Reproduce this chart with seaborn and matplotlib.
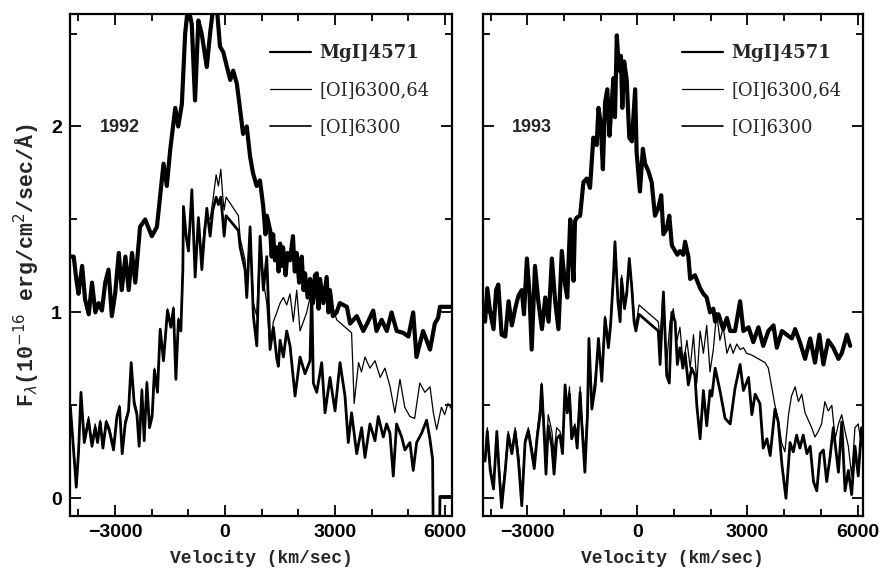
import matplotlib
matplotlib.use("Agg")
import matplotlib.pyplot as plt
import seaborn as sns
import pandas as pd

# ---------------- 1992 ----------------
v92_mg = [-4220, -4130, -4060, -4000, -3900, -3820, -3720, -3630, -3540, -3450, -3360, -3270, -3180, -3090,
          -3000, -2900, -2820, -2720, -2630, -2540, -2450, -2320, -2180, -2000, -1860, -1680, -1590, -1500,
          -1360, -1280, -1180, -1090, -1010, -910, -820, -730, -640, -500, -410, -320, -230, -140, -50, 50,
          140, 220, 320, 410, 490, 590, 680, 760, 860, 950, 1040, 1100, 1140, 1230, 1270, 1310, 1360, 1410,
          1460, 1500, 1540, 1580, 1650, 1700, 1770, 1850, 1900, 1950, 2020, 2090, 2140, 2180, 2250, 2320,
          2400, 2450, 2500, 2550, 2590, 2680, 2770, 2820, 2860, 2940, 3040, 3130, 3320, 3410, 3590, 3770,
          3900, 4040, 4130, 4270, 4410, 4540, 4680, 4860, 5000, 5130, 5220, 5400, 5590, 5720, 5810, 5860, 6190]
f92_mg = [1.30, 1.30, 1.18, 1.10, 1.25, 1.07, 0.99, 1.16, 1.00, 1.05, 1.01, 1.16, 1.23, 0.98,
          1.10, 1.32, 1.12, 1.30, 1.12, 1.32, 1.16, 1.46, 1.50, 1.41, 1.46, 1.80, 1.68, 1.87,
          2.10, 2.00, 2.12, 2.50, 2.65, 2.55, 2.14, 2.57, 2.50, 2.32, 2.50, 2.65, 2.65, 2.43, 2.40, 2.32,
          2.25, 2.30, 2.23, 2.09, 1.96, 2.00, 1.84, 1.75, 1.68, 1.71, 1.57, 1.42, 1.52, 1.44, 1.30, 1.42, 1.28, 1.35,
          1.22, 1.37, 1.25, 1.35, 1.20, 1.32, 1.28, 1.41, 1.22, 1.32, 1.16, 1.30, 1.12, 1.21, 1.08, 1.18,
          1.05, 1.20, 1.21, 1.02, 1.18, 1.05, 1.19, 1.00, 1.12, 0.98, 1.00, 1.05, 1.03, 0.94, 0.98, 0.90,
          0.95, 1.01, 0.90, 0.96, 0.90, 1.00, 0.90, 0.89, 0.87, 1.00, 0.76, 0.90, 0.80, 0.94, 0.97, 1.03, 1.03]

v92_o64 = [-4224, -4134, -4060, -3998, -3932, -3842, -3725, -3632, -3543, -3480, -3406, -3333, -3243, -3153,
           -3044, -2951, -2880, -2807, -2725, -2635, -2562, -2480, -2406, -2344, -2270, -2207, -2134, -2063,
           -1990, -1927, -1845, -1771, -1681, -1572, -1480, -1409, -1343, -1273, -1207, -1153, -1136, -1063,
           -1000, -907, -817, -728, -635, -572, -499, -409, -335, -245, -183, -117, -63, -27, 27, 362,
           409, 545, 591, 681, 771, 864, 954, 1044, 1136, 1226, 1316, 1409, 1500, 1589, 1680, 1771, 1860,
           1953, 2044, 2135, 2226, 2316, 2407, 2499, 2590, 2680, 2770, 2861, 2950, 3044, 3450, 3520, 3640,
           3720, 3815, 3950, 4090, 4230, 4360, 4500, 4630, 4770, 4900, 5040, 5170, 5310, 5450, 5590, 5680,
           5770, 5900, 5990, 6080, 6180]
f92_o64 = [0.50, 0.28, 0.08, 0.27, 0.55, 0.32, 0.44, 0.30, 0.40, 0.32, 0.42, 0.29, 0.42, 0.38,
           0.28, 0.45, 0.50, 0.27, 0.42, 0.48, 0.72, 0.53, 0.47, 0.31, 0.59, 0.34, 0.63, 0.41,
           0.46, 0.70, 0.59, 0.90, 0.76, 1.02, 0.94, 1.03, 0.66, 0.97, 0.92, 1.25, 1.55, 1.43,
           1.36, 1.62, 1.25, 1.48, 1.30, 1.45, 1.52, 1.50, 1.60, 1.74, 1.68, 1.77, 1.62, 1.55, 1.62, 1.52,
           1.40, 1.28, 1.15, 1.45, 1.05, 0.98, 1.40, 1.17, 1.05, 0.80, 0.95, 1.00, 1.05, 1.08, 1.04, 1.10, 0.95,
           1.12, 0.90, 0.95, 1.00, 1.08, 1.05, 1.10, 1.05, 1.12, 1.06, 1.08, 1.02, 0.96, 0.89, 0.51, 0.73,
           0.68, 0.76, 0.70, 0.74, 0.65, 0.70, 0.60, 0.46, 0.64, 0.49, 0.44, 0.43, 0.62, 0.57, 0.60, 0.46,
           0.37, 0.49, 0.45, 0.51, 0.48]

v92_o63 = [-4224, -4134, -4060, -3998, -3932, -3842, -3725, -3632, -3543, -3480, -3406, -3333, -3243, -3153,
           -3044, -2951, -2880, -2807, -2725, -2635, -2562, -2480, -2406, -2344, -2270, -2207, -2134, -2063,
           -1990, -1927, -1845, -1771, -1681, -1572, -1480, -1409, -1343, -1273, -1207, -1153, -1136, -1063,
           -1000, -907, -817, -728, -635, -572, -499, -409, -335, -245, -183, -117, -63, -27, 27, 362,
           409, 545, 591, 681, 771, 864, 954, 1044, 1136, 1226, 1316, 1409, 1452, 1500, 1589, 1680, 1771,
           1908, 2044, 2180, 2316, 2362, 2407, 2499, 2635, 2725, 2861, 2998, 3134, 3270, 3360, 3450, 3589,
           3725, 3815, 3951, 4088, 4178, 4315, 4406, 4496, 4587, 4678, 4815, 4905, 5041, 5131, 5224, 5360,
           5496, 5586, 5660, 5677, 5850, 5860, 6190]
f92_o63 = [0.50, 0.26, 0.06, 0.25, 0.57, 0.30, 0.42, 0.28, 0.38, 0.30, 0.41, 0.27, 0.41, 0.36,
           0.26, 0.44, 0.49, 0.24, 0.40, 0.47, 0.73, 0.51, 0.45, 0.28, 0.58, 0.31, 0.62, 0.38,
           0.44, 0.69, 0.57, 0.91, 0.74, 1.01, 0.92, 1.02, 0.64, 0.96, 0.90, 1.23, 1.57, 1.41,
           1.33, 1.66, 1.19, 1.51, 1.23, 1.40, 1.56, 1.41, 1.55, 1.62, 1.58, 1.62, 1.50, 1.41, 1.52, 1.44,
           1.35, 1.23, 1.08, 1.46, 0.98, 0.82, 1.41, 1.12, 1.30, 0.80, 0.92, 0.75, 0.71, 0.85, 0.76, 0.90, 0.82,
           0.55, 0.76, 0.67, 0.74, 1.14, 0.62, 0.57, 0.73, 0.46, 0.65, 0.47, 0.73, 0.55, 0.30, 0.46, 0.24,
           0.38, 0.22, 0.40, 0.31, 0.44, 0.33, 0.40, 0.35, 0.12, 0.40, 0.33, 0.26, 0.30, 0.15, 0.30, 0.35,
           0.42, 0.32, 0.21, -0.20, -0.20, 0.01, 0.01]

# ---------------- 1993 ----------------
v93_mg = [-4150, -4090, -4010, -3920, -3850, -3790, -3700, -3600, -3510, -3420, -3330, -3240, -3150, -3090,
          -3010, -2940, -2880, -2790, -2700, -2600, -2510, -2420, -2330, -2240, -2150, -2060, -1970, -1910,
          -1830, -1790, -1740, -1700, -1650, -1560, -1470, -1380, -1290, -1200, -1110, -1060, -1000, -940,
          -880, -820, -760, -700, -650, -610, -560, -500, -450, -410, -360, -290, -220, -150, -60, -20, 70,
          150, 210, 300, 390, 480, 570, 650, 710, 800, 870, 940, 1000, 1090, 1160, 1250, 1300, 1390, 1440,
          1570, 1710, 1800, 1890, 1980, 2070, 2120, 2210, 2340, 2440, 2530, 2660, 2800, 2890, 3030, 3160,
          3300, 3430, 3570, 3710, 3800, 3940, 4070, 4210, 4300, 4430, 4570, 4710, 4840, 4960, 5070, 5200,
          5340, 5480, 5570, 5710, 5800]
f93_mg = [0.95, 1.13, 1.00, 0.91, 1.12, 1.15, 0.88, 0.87, 1.06, 0.93, 1.02, 1.09, 1.12, 0.99,
          1.29, 1.10, 0.80, 1.25, 1.06, 0.91, 1.08, 0.95, 1.29, 1.06, 0.91, 1.33, 1.15, 1.08,
          1.50, 1.35, 1.17, 1.49, 1.51, 1.52, 1.70, 1.72, 1.67, 1.94, 1.90, 2.10, 2.02, 1.77,
          2.13, 2.20, 1.95, 2.13, 2.26, 2.05, 2.49, 2.30, 2.38, 2.10, 2.35, 2.25, 1.94, 1.92, 2.20, 1.86, 1.65,
          1.88, 1.80, 1.76, 1.70, 1.52, 1.56, 1.63, 1.42, 1.45, 1.52, 1.36, 1.34, 1.31, 1.33, 1.31, 1.38, 1.30, 1.18,
          1.20, 1.13, 1.10, 1.08, 1.00, 1.02, 0.95, 0.99, 0.91, 0.97, 0.90, 0.90, 1.06, 0.90, 0.92, 0.84,
          0.92, 0.82, 0.90, 0.93, 0.81, 0.90, 0.88, 0.86, 0.91, 0.84, 0.75, 0.86, 0.73, 0.88, 0.72, 0.85,
          0.81, 0.75, 0.78, 0.88, 0.82]

v93_o64 = [-4150, -4090, -4010, -3920, -3830, -3770, -3700, -3600, -3520, -3420, -3330, -3240, -3150, -3060,
           -2970, -2880, -2810, -2730, -2650, -2610, -2540, -2490, -2430, -2330, -2270, -2200, -2110, -2040,
           -1970, -1910, -1850, -1790, -1700, -1640, -1560, -1520, -1430, -1360, -1320, -1240, -1150, -1060,
           -970, -880, -790, -730, -650, -610, -530, -470, -430, -350, -290, -220, -150, -90, -40, 46, 570,
           620, 700, 800, 890, 980, 1080, 1160, 1250, 1350, 1440, 1530, 1620, 1710, 1800, 1890, 1980, 2070,
           2160, 2250, 2340, 2440, 2530, 2610, 2710, 2800, 2890, 2980, 3120, 3480, 3570, 3660, 3750, 3840,
           3930, 4020, 4120, 4200, 4300, 4390, 4480, 4570, 4660, 4750, 4840, 4930, 5020, 5110, 5200, 5300,
           5390, 5480, 5570, 5660, 5750, 5840, 5930, 6020, 6110]
f93_o64 = [0.22, 0.38, 0.18, 0.07, 0.34, 0.18, 0.00, 0.18, 0.36, 0.26, 0.38, 0.24, 0.02, 0.32,
           0.38, 0.28, 0.20, 0.36, 0.50, 0.62, 0.40, 0.20, 0.45, 0.36, 0.24, 0.38, 0.36, 0.30,
           0.58, 0.50, 0.60, 0.36, 0.40, 0.32, 0.60, 0.45, 0.24, 0.50, 0.84, 0.52, 0.65, 0.84,
           0.68, 0.98, 0.85, 0.96, 1.22, 1.36, 1.10, 0.98, 1.20, 1.05, 1.12, 1.27, 1.15, 0.98, 0.93, 1.04, 0.95,
           0.85, 1.10, 0.72, 0.95, 1.02, 0.85, 0.92, 0.72, 0.85, 0.70, 0.88, 0.62, 0.90, 0.78, 0.93, 0.68, 0.80,
           1.00, 0.85, 0.92, 0.78, 0.83, 0.78, 0.83, 0.80, 0.81, 0.78, 0.77, 0.73, 0.70, 0.60, 0.50, 0.42,
           0.30, 0.25, 0.45, 0.55, 0.60, 0.52, 0.56, 0.46, 0.42, 0.38, 0.33, 0.36, 0.40, 0.52, 0.47, 0.50,
           0.32, 0.40, 0.45, 0.36, 0.28, 0.12, 0.38, 0.40, 0.28]

v93_o63 = [-4150, -4090, -4010, -3920, -3830, -3770, -3700, -3600, -3520, -3420, -3330, -3240, -3150, -3060,
           -2970, -2880, -2810, -2730, -2650, -2610, -2540, -2490, -2430, -2330, -2270, -2200, -2110, -2040,
           -1970, -1910, -1850, -1790, -1700, -1640, -1560, -1520, -1430, -1360, -1320, -1240, -1150, -1060,
           -970, -880, -790, -730, -650, -610, -530, -470, -430, -350, -290, -220, -150, -90, -40, 46, 570,
           620, 710, 800, 870, 940, 1030, 1090, 1160, 1240, 1300, 1390, 1480, 1570, 1620, 1710, 1800, 1890,
           1980, 2030, 2120, 2250, 2390, 2530, 2660, 2800, 2890, 3030, 3120, 3210, 3340, 3430, 3530, 3620,
           3750, 3840, 3940, 4050, 4160, 4250, 4340, 4430, 4520, 4620, 4710, 4800, 4890, 4980, 5070, 5160,
           5250, 5340, 5480, 5570, 5660, 5750, 5840, 5930, 6020, 6110]
f93_o63 = [0.20, 0.36, 0.15, 0.05, 0.36, 0.15, -0.05, 0.15, 0.34, 0.24, 0.36, 0.20, -0.04, 0.30,
           0.36, 0.25, 0.16, 0.33, 0.45, 0.61, 0.35, 0.13, 0.39, 0.28, 0.13, 0.32, 0.34, 0.24,
           0.61, 0.46, 0.56, 0.32, 0.38, 0.27, 0.57, 0.42, 0.14, 0.45, 0.86, 0.48, 0.60, 0.86,
           0.63, 0.97, 0.81, 0.93, 1.20, 1.38, 1.06, 0.95, 1.18, 1.02, 1.10, 1.29, 1.13, 0.95, 0.90, 0.99, 0.90,
           0.72, 1.11, 0.66, 0.62, 1.00, 0.95, 0.72, 0.81, 0.70, 0.78, 0.61, 0.70, 0.66, 0.50, 0.32, 0.58, 0.39,
           0.58, 0.55, 0.70, 0.58, 0.43, 0.40, 0.59, 0.72, 0.58, 0.65, 0.45, 0.56, 0.51, 0.27, 0.32, 0.23,
           0.48, 0.41, 0.18, 0.00, 0.30, 0.25, 0.34, 0.27, 0.34, 0.24, 0.28, 0.09, 0.04, 0.24, 0.26, 0.09,
           0.22, 0.38, 0.14, 0.41, 0.04, 0.15, 0.02, 0.28, 0.12, 0.38]

labels = ["MgI]4571", "[OI]6300,64", "[OI]6300"]
years = ["1992", "1993"]

sns.set_theme(style="ticks")
plt.rcParams['font.family'] = ['Liberation Sans', 'DejaVu Sans']
plt.rcParams['axes.linewidth'] = 1.6

fig = plt.figure(figsize=(8.81, 5.73), dpi=100)
ax1 = fig.add_axes([0.0795, 0.0995, 0.4336, 0.8761])
ax2 = fig.add_axes([0.5479, 0.0995, 0.4317, 0.8761])

panels = [
    (ax1, years[0], (v92_mg, f92_mg), (v92_o64, f92_o64), (v92_o63, f92_o63), (-4230, 6190)),
    (ax2, years[1], (v93_mg, f93_mg), (v93_o64, f93_o64), (v93_o63, f93_o63), (-4215, 6150)),
]

for i, (ax, yr, mg, o64, o63, xl) in enumerate(panels):
    d_o64 = pd.DataFrame({"v": o64[0], "f": o64[1]})
    d_o63 = pd.DataFrame({"v": o63[0], "f": o63[1]})
    d_mg = pd.DataFrame({"v": mg[0], "f": mg[1]})
    sns.lineplot(data=d_o64, x="v", y="f", ax=ax, color="black", linewidth=0.9,
                 estimator=None, sort=False, label=labels[1])
    sns.lineplot(data=d_o63, x="v", y="f", ax=ax, color="black", linewidth=2.0,
                 estimator=None, sort=False, label=labels[2])
    sns.lineplot(data=d_mg, x="v", y="f", ax=ax, color="black", linewidth=3.0,
                 estimator=None, sort=False, label=labels[0])
    ax.set_xlim(*xl)
    ax.set_ylim(-0.095, 2.605)
    ax.set_xticks([-3000, 0, 3000, 6000])
    ax.set_xticks(list(range(-4000, 7000, 1000)), minor=True)
    ax.set_yticks([0, 1, 2])
    ax.set_yticks([0.5, 1.5, 2.5], minor=True)
    ax.tick_params(which="both", direction="in", top=True, right=True, width=1.3, colors="black")
    ax.tick_params(which="major", length=8, pad=6, labelsize=14)
    ax.tick_params(which="minor", length=5)
    for t in ax.get_xticklabels() + ax.get_yticklabels():
        t.set_fontweight("bold")
    if i == 1:
        ax.tick_params(labelleft=False)
        ax.set_ylabel("")
    else:
        ax.set_ylabel(r"F$_\lambda$(10$^{-16}$ erg/cm$^2$/sec/Å)", fontsize=15.5,
                      family="Liberation Mono", fontweight="bold", labelpad=6)
    ax.set_xlabel("Velocity (km/sec)", fontsize=13, family="Liberation Mono",
                  fontweight="bold", labelpad=6)
    for s in ax.spines.values():
        s.set_color("black")
        s.set_linewidth(1.6)
    h, l = ax.get_legend_handles_labels()
    order = [l.index(x) for x in labels]
    leg = ax.legend([h[k] for k in order], labels, loc="upper left",
                    bbox_to_anchor=(0.523, 0.94), frameon=False, borderpad=0,
                    borderaxespad=0, handlelength=2.3, handletextpad=0.45,
                    labelspacing=1.05, prop={"family": "DejaVu Serif", "size": 13})
    for j, (ln, tx) in enumerate(zip(leg.get_lines(), leg.get_texts())):
        ln.set_linewidth([1.6, 0.9, 1.2][j])
        if j == 0:
            tx.set_fontweight("bold")
    ax.text(0.078, 0.773, yr, transform=ax.transAxes, va="center", ha="left",
            fontsize=13, fontweight="bold", family="Liberation Sans")

fig.savefig("out.png", dpi=100, facecolor="white")
